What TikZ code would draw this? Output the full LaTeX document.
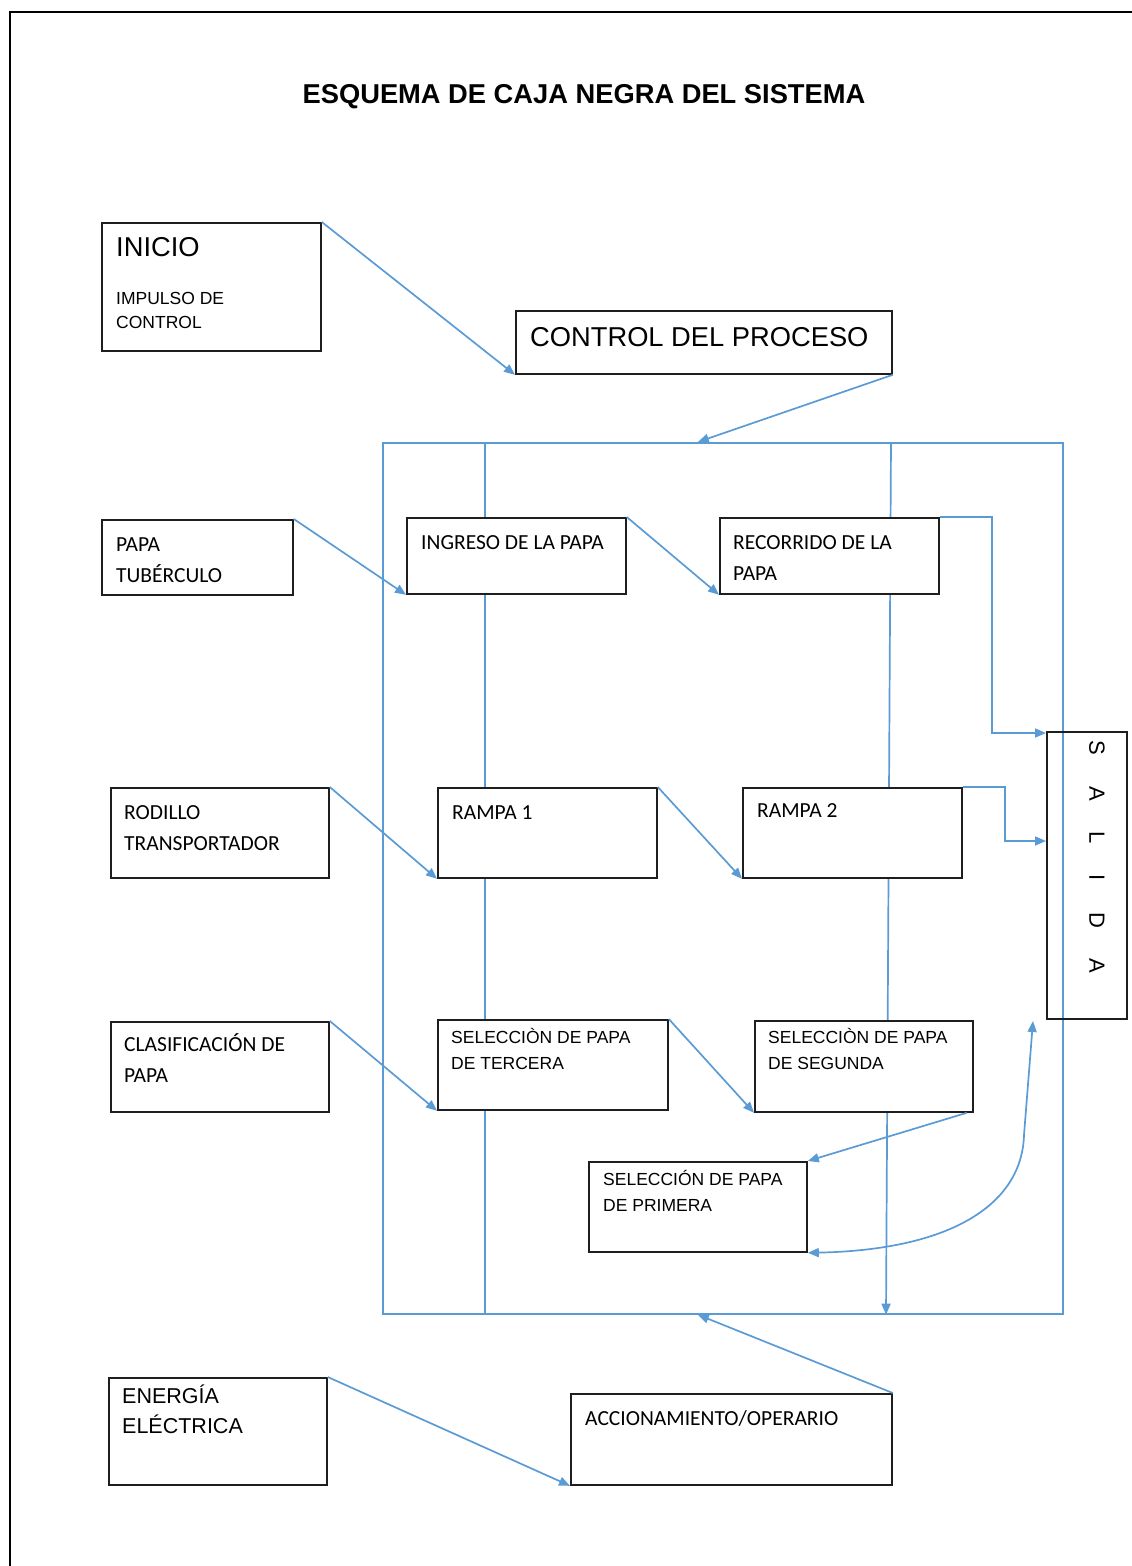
\documentclass[tikz,border=0pt]{standalone}
\usepackage{fontspec}
\setmainfont{Liberation Sans}
\newfontfamily\calibri{Carlito}
\usetikzlibrary{arrows.meta, positioning, backgrounds, calc}
\definecolor{flowblue}{RGB}{91,155,213}
\definecolor{edge}{RGB}{30,30,30}

\tikzset{
  blk/.style={draw=edge, line width=1.8pt, fill=white, anchor=north west, inner sep=0pt},
  txt/.style={anchor=north west, inner sep=0pt, align=left, text=black},
  cal/.style={txt, font=\calibri\fontsize{21.5}{31}\selectfont},
  ari/.style={txt, font=\fontsize{17.5}{26}\selectfont},
  big/.style={txt, font=\fontsize{27.3}{30}\selectfont},
  flow/.style={draw=flowblue, line width=1.7pt},
  arr/.style={flow, -{Triangle[length=11pt,width=9pt]}},
}

\begin{document}
\begin{tikzpicture}[x=1pt, y=-1pt]
  \useasboundingbox (0,0) rectangle (1132,1566);
  \draw[line width=2pt] (10,1566) -- (10,12) -- (1132,12);

  \node[font=\bfseries\fontsize{27.3}{30}\selectfont] (title) at (584,97)
    {ESQUEMA DE CAJA NEGRA DEL SISTEMA};

  % entradas
  \node[blk, minimum width=219pt, minimum height=128pt,
        label={[big, xshift=15pt, yshift=-15pt]north west:INICIO},
        label={[ari, font=\fontsize{17.5}{24}\selectfont, xshift=15pt, yshift=-70pt]north west:IMPULSO DE\\CONTROL}]
    (inicio) at (101,222) {};
  \node[blk, minimum width=376pt, minimum height=63pt,
        label={[big, xshift=15pt, yshift=-17pt]north west:CONTROL DEL PROCESO}]
    (control) at (515,310) {};
  \node[blk, minimum width=191pt, minimum height=75pt,
        label={[cal, xshift=15pt, yshift=-18pt]north west:PAPA\\TUBÉRCULO}]
    (papa) at (101,519) {};
  \node[blk, minimum width=218pt, minimum height=90pt,
        label={[cal, xshift=14pt, yshift=-18pt]north west:RODILLO\\TRANSPORTADOR}]
    (rodillo) at (110,787) {};
  \node[blk, minimum width=218pt, minimum height=90pt,
        label={[cal, xshift=14pt, yshift=-12pt]north west:CLASIFICACIÓN DE\\PAPA}]
    (clasif) at (110,1021) {};
  \node[blk, minimum width=218pt, minimum height=107pt,
        label={[txt, font=\fontsize{21.5}{30}\selectfont, xshift=14pt, yshift=-8pt]north west:ENERGÍA\\ELÉCTRICA}]
    (energia) at (108,1377) {};

  % caja negra
  \node[blk, minimum width=219pt, minimum height=76pt,
        label={[cal, xshift=15pt, yshift=-18pt]north west:INGRESO DE LA PAPA}]
    (ingreso) at (406,517) {};
  \node[blk, minimum width=219pt, minimum height=76pt,
        label={[cal, xshift=14pt, yshift=-18pt]north west:RECORRIDO DE LA\\PAPA}]
    (recorrido) at (719,517) {};
  \node[blk, minimum width=219pt, minimum height=90pt,
        label={[cal, xshift=15pt, yshift=-18pt]north west:RAMPA 1}]
    (rampa1) at (437,787) {};
  \node[blk, minimum width=219pt, minimum height=90pt,
        label={[cal, xshift=15pt, yshift=-16pt]north west:RAMPA 2}]
    (rampa2) at (742,787) {};
  \node[blk, minimum width=230pt, minimum height=90pt,
        label={[ari, xshift=14pt, yshift=-9pt]north west:SELECCIÒN DE PAPA\\DE TERCERA}]
    (tercera) at (437,1019) {};
  \node[blk, minimum width=218pt, minimum height=91pt,
        label={[ari, xshift=14pt, yshift=-8pt]north west:SELECCIÒN DE PAPA\\DE SEGUNDA}]
    (segunda) at (754,1020) {};
  \node[blk, minimum width=218pt, minimum height=90pt,
        label={[ari, xshift=15pt, yshift=-9pt]north west:SELECCIÓN DE PAPA\\DE PRIMERA}]
    (primera) at (588,1161) {};
  \node[blk, fill=none, minimum width=80pt, minimum height=287pt] (salida) at (1046,731) {};
  \node[rotate=-90, inner sep=0pt, font=\fontsize{22}{24}\selectfont] (saltxt) at (1097,857)
    {\spaceskip=31pt plus 0pt S A L I D A};
  \node[blk, minimum width=321pt, minimum height=91pt,
        label={[cal, xshift=15pt, yshift=-17pt]north west:ACCIONAMIENTO/OPERARIO}]
    (accion) at (570,1393) {};
  \coordinate (salin) at (1033,1021);

  \begin{scope}[on background layer]
    \node[flow, anchor=north west, inner sep=0pt, minimum width=680pt, minimum height=871pt] (caja) at (382,442) {};
    \draw[flow] ([xshift=103pt]caja.north west) -- ([xshift=103pt]caja.south west);
    \draw[arr] ([xshift=509pt]caja.north west) -- ([xshift=504pt]caja.south west);
  \end{scope}

  % flujos
  \draw[arr] (inicio.north east) -- (control.south west);
  \draw[arr] (control.south east) -- ([xshift=-25pt]caja.north);
  \draw[arr] (papa.north east) -- (ingreso.south west);
  \draw[arr] (ingreso.north east) -- (recorrido.south west);
  \draw[arr] (recorrido.north east) -- ++(52,0) |- ([yshift=-2pt]salida.north west);
  \draw[arr] (rodillo.north east) -- (rampa1.south west);
  \draw[arr] (rampa1.north east) -- (rampa2.south west);
  \draw[arr] (rampa2.north east) -- ++(42,0) |- ([yshift=-110pt]salida.north west);
  \draw[arr] (clasif.north east) -- (tercera.south west);
  \draw[arr] (tercera.north east) -- (segunda.south west);
  \draw[arr] ([xshift=-7pt]segunda.south east) -- (primera.north east);
  \draw[flow, {Triangle[length=11pt,width=9pt]}-{Triangle[length=11pt,width=9pt]}]
    (primera.south east) .. controls (950,1250) and (1022,1205) .. (1024,1135) -- (salin);
  \draw[arr] (accion.north east) -- ([xshift=-25pt]caja.south);
  \draw[arr] (energia.north east) -- (accion.south west);
\end{tikzpicture}
\end{document}
